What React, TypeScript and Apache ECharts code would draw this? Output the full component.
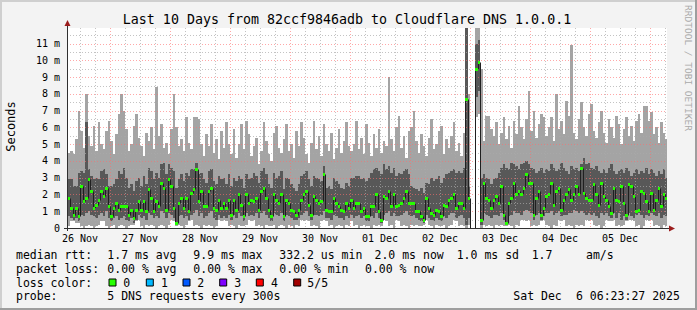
import React, { useEffect, useRef } from "react";
import * as echarts from "echarts";

// ---------- texts ----------
const TITLE = "Last 10 Days from 82ccf9846adb to Cloudflare DNS 1.0.0.1";
const Y_AXIS_NAME = "Seconds";
const WATERMARK = "RRDTOOL / TOBI OETIKER";
const DAY_LABELS = ["26 Nov", "27 Nov", "28 Nov", "29 Nov", "30 Nov", "01 Dec", "02 Dec", "03 Dec", "04 Dec", "05 Dec"];
// hours since 26 Nov 00:00
const DAY_NOON_HOURS = [12, 36, 60, 84, 108, 132, 156, 180, 204, 228];
const X_START_HOUR = 6.8;
const X_END_HOUR = 246.8;
const FIRST_STEP_HOUR = 7;
const Y_MAX_MS = 11.94;

// ---------- data (ms), one value per hourly step ----------
const MEDIAN_MS: (number | null)[] = [
  1.8, 1.2, 0.8, 1.2, 0.7, 2.5, 1.6, 1.8, 2.9, 2.2,
  1.2, 1.4, 1.7, 2.2, 1.9, 2.4, 1.3, 0.7, 1.2, 1.5,
  1.1, 1.3, 1.3, 1.3, 0.8, 1.1, 0.6, 1.1, 1.6, 1.1,
  1.6, 1.0, 2.3, 1.8, 1.0, 1.6, 1.3, 2.7, 2.4, 1.1,
  2.9, 2.5, 1.2, 0.3, 1.5, 1.8, 1.2, 1.8, 1.0, 2.1,
  2.3, 3.5, 1.6, 2.2, 1.3, 1.3, 2.2, 2.4, 1.2, 1.1,
  1.7, 1.2, 1.5, 1.2, 1.7, 0.8, 1.7, 1.1, 2.0, 1.4,
  0.7, 2.0, 1.5, 1.7, 1.6, 1.8, 1.1, 2.2, 2.4, 1.8,
  1.1, 0.7, 2.0, 1.7, 1.5, 2.0, 0.7, 1.7, 1.5, 1.1,
  1.0, 0.8, 1.1, 1.7, 2.0, 2.2, 1.4, 0.8, 1.9, 1.7,
  1.5, 1.6, 3.2, 1.1, 1.0, 1.0, 1.8, 1.5, 1.3, 1.1,
  1.0, 1.5, 1.2, 1.7, 1.2, 1.5, 1.5, 1.0, 1.2, 0.7,
  0.7, 1.3, 1.3, 2.0, 1.0, 0.5, 1.9, 1.8, 2.2, 1.3,
  2.0, 1.3, 1.4, 1.5, 1.8, 2.2, 1.5, 1.5, 1.5, 1.0,
  1.0, 0.7, 0.5, 1.8, 1.2, 0.9, 0.8, 1.1, 1.0, 0.7,
  1.4, 1.3, 1.7, 1.8, 2.0, 1.2, 1.5, 1.5, 1.2, 7.7,
  1.8, null, null, 9.5, 9.9, 0.5, 2.7, 1.8, 1.7, 1.2,
  1.7, 1.9, 1.5, 2.5, 0.8, 0.3, 1.5, 1.8, 2.7, 2.0,
  2.2, 2.0, 2.4, 3.2, 2.7, 2.7, 0.8, 1.8, 2.2, 0.8,
  1.2, 1.9, 2.0, 2.7, 1.4, 2.2, 2.4, 1.1, 1.7, 2.0,
  2.3, 1.7, 2.0, 2.5, 2.0, 3.6, 2.1, 1.8, 1.7, 1.7,
  2.6, 2.0, 1.4, 2.7, 1.9, 1.7, 1.3, 0.9, 2.4, 1.7,
  1.6, 2.5, 1.5, 0.8, 2.6, 2.5, 1.9, 1.0, 1.1, 2.2,
  2.1, 1.6, 1.0, 2.1, 1.1, 1.7, 2.4, 1.3, 2.0, 1.8,
];

// highest of the 5 pings
const P5_MS = [
  4.5, 4.6, 4.4, 5.3, 7.0, 5.8, 4.8, 8.0, 5.5, 4.9, 6.1, 4.6, 6.3, 5.0, 4.7, 5.8, 6.4,
  5.2, 4.4, 5.6, 6.8, 8.0, 7.0, 5.9, 4.6, 5.0, 6.1, 6.8, 5.4, 4.9, 4.3, 5.7, 5.2, 6.0, 4.7, 8.4, 5.5, 6.2, 4.8, 5.1, 4.4,
  5.9, 8.0, 6.0, 4.9, 5.3, 4.6, 6.6, 5.1, 4.7, 6.6, 6.6, 6.5, 5.0, 4.3, 5.6, 4.9, 6.2, 4.5, 5.3, 4.1, 5.8, 4.8, 6.3, 5.0,
  4.4, 5.9, 4.2, 5.0, 6.2, 4.7, 6.4, 5.6, 4.3, 4.9, 5.4, 3.8, 4.6, 6.3, 5.2, 4.4, 4.0, 5.7, 6.1, 4.8, 4.5, 5.3, 6.2, 4.6,
  5.0, 4.2, 5.8, 4.9, 6.3, 5.4, 4.4, 3.9, 5.1, 6.4, 4.7, 5.5, 4.3, 6.2, 5.0, 4.6, 5.7, 4.1, 4.8, 5.9, 4.5, 5.2, 6.3, 4.9,
  4.6, 5.0, 6.4, 4.7, 5.4, 4.4, 6.2, 5.1, 4.3, 5.6, 4.8, 5.9, 4.5, 5.2, 4.9, 9.0, 5.3, 4.6, 6.0, 6.7, 4.8, 5.5, 4.2, 5.8,
  6.0, 7.0, 5.2, 4.5, 5.6, 4.9, 4.3, 5.4, 6.5, 4.7, 5.0, 5.8, 6.1, 4.4, 5.3, 4.8, 5.5, 6.3, 4.6, 5.1, 4.3, 5.7,
  13, 8.0, 0, 0, 13, 13, 9.5,
  5.2, 6.7, 6.7, 5.9, 5.5, 6.3, 5.0, 5.7, 6.6, 5.3, 6.1, 4.8, 6.4, 5.6, 7.3, 6.0, 5.3, 6.5, 8.2, 5.8, 7.0, 5.4, 6.2, 6.8,
  6.6, 5.5, 6.0, 6.6, 5.2, 8.0, 5.9, 6.4, 5.6, 7.6, 6.7, 10.9, 5.7, 5.3, 6.5, 7.5, 6.0, 5.5, 6.8, 7.4, 5.8, 5.4, 6.3, 7.0,
  5.7, 5.1, 6.5, 6.0, 5.4, 6.7, 6.2, 5.0, 5.9, 6.6, 5.5, 6.1, 5.2, 6.4, 6.8, 5.7, 7.3, 7.3, 6.4, 6.9, 5.6, 6.0, 5.1, 6.3, 5.7, 5.3,
];

// 4th ping
const P4_MS = [
  2.9, 2.9, 2.5, 2.5, 3.3, 3.4, 3.3, 6.3, 3.5, 3.1, 2.9, 3.0, 2.9, 3.4, 3.5, 3.2, 2.5,
  2.5, 2.6, 2.9, 3.4, 3.2, 3.6, 3.0, 2.4, 2.6, 2.2, 2.8, 3.0, 2.5, 3.1, 2.6, 3.6, 3.4, 2.9, 3.3, 3.0, 3.8, 3.9, 3.2, 3.8,
  3.6, 3.4, 2.4, 2.9, 3.2, 2.8, 3.3, 3.1, 3.5, 3.5, 3.9, 3.2, 3.3, 2.9, 2.7, 3.4, 3.5, 2.8, 2.6, 3.1, 2.9, 3.0, 2.6, 3.2,
  2.5, 3.0, 2.8, 3.1, 2.9, 2.4, 3.2, 2.9, 3.0, 3.3, 3.1, 2.7, 3.4, 3.6, 3.2, 2.6, 2.4, 3.3, 3.0, 3.1, 3.4, 2.3, 3.0, 2.9,
  2.6, 2.4, 2.2, 2.6, 3.1, 3.2, 3.4, 2.9, 2.5, 3.1, 3.0, 2.9, 2.8, 3.7, 2.4, 2.5, 2.3, 3.0, 2.8, 2.6, 2.4, 2.3, 2.7, 2.5, 3.0,
  3.0, 3.1, 3.1, 2.9, 3.0, 2.8, 3.0, 3.3, 3.5, 3.6, 3.4, 3.2, 3.8, 3.5, 3.7, 3.3, 3.6, 3.1, 3.3, 3.2, 3.4, 3.5, 3.2, 2.5, 2.4,
  2.3, 2.2, 2.4, 2.1, 2.7, 2.6, 3.0, 2.8, 2.9, 3.1, 2.7, 3.0, 3.2, 3.3, 3.4, 3.5, 3.3, 3.4, 3.3, 3.6,
  13, 2.5, 0, 0, 11.0, 11.2, 3.0,
  3.2, 3.0, 2.9, 2.6, 2.9, 3.0, 3.3, 3.6, 3.8, 3.6, 3.5, 3.9, 3.8, 3.7, 3.5, 3.8, 3.9, 4.0, 3.8, 3.6, 3.5, 3.3, 3.4, 3.6,
  3.3, 3.5, 3.4, 3.8, 3.6, 3.4, 3.5, 3.9, 3.6, 3.4, 3.2, 3.7, 3.5, 3.6, 3.4, 3.8, 4.2, 3.8, 3.9, 3.6, 3.5, 3.7, 3.4, 3.3,
  3.5, 3.3, 3.6, 3.8, 3.4, 3.2, 3.4, 3.5, 3.3, 3.6, 3.4, 3.1, 3.3, 3.5, 3.2, 3.4, 3.3, 3.6, 3.2, 3.5, 3.3, 3.1, 3.4, 3.2, 3.5, 3.0,
];

// 2nd ping
const P2_MS = [
  0.7, 0.6, 0.5, 0.6, 0.4, 0.8, 0.7, 0.9, 1.0, 0.8, 0.7, 0.6, 0.8, 0.9, 0.7, 1.0, 0.6,
  0.4, 0.6, 0.7, 0.5, 0.6, 0.7, 0.5, 0.4, 0.6, 0.3, 0.5, 0.8, 0.6, 0.7, 0.5, 0.9, 0.8, 0.6, 0.7, 0.6, 1.0, 0.9, 0.6, 0.9,
  0.8, 0.6, 0.2, 0.7, 0.8, 0.6, 0.7, 0.5, 0.8, 0.9, 1.1, 0.7, 0.9, 0.6, 0.7, 0.9, 1.0, 0.6, 0.5, 0.8, 0.6, 0.7, 0.6, 0.8,
  0.5, 0.8, 0.6, 0.9, 0.7, 0.4, 0.9, 0.7, 0.8, 0.7, 0.9, 0.6, 0.9, 1.0, 0.8, 0.6, 0.4, 0.9, 0.8, 0.7, 0.9, 0.4, 0.8, 0.7,
  0.6, 0.5, 0.5, 0.6, 0.8, 0.9, 1.0, 0.7, 0.5, 0.8, 0.8, 0.7, 0.8, 1.0, 0.6, 0.6, 0.5, 0.8, 0.7, 0.6, 0.6, 0.5, 0.7, 0.6, 0.8,
  0.6, 0.7, 0.8, 0.6, 0.7, 0.4, 0.4, 0.7, 0.6, 0.9, 0.6, 0.3, 0.8, 0.9, 1.0, 0.7, 0.9, 0.7, 0.7, 0.8, 0.9, 1.0, 0.8, 0.7, 0.8,
  0.6, 0.5, 0.4, 0.3, 0.8, 0.6, 0.5, 0.4, 0.6, 0.5, 0.4, 0.7, 0.6, 0.8, 0.9, 0.9, 0.6, 0.7, 0.8, 0.6,
  0.2, 0.6, 0, 0, 7.8, 8.2, 0.2,
  0.9, 0.8, 0.7, 0.6, 0.8, 0.8, 0.7, 0.9, 0.5, 0.2, 0.7, 0.8, 1.0, 0.9, 0.9, 0.8, 1.0, 1.1, 1.0, 0.9, 0.5, 0.8, 0.9, 0.5,
  0.7, 0.9, 0.9, 1.0, 0.8, 0.9, 1.0, 0.7, 0.8, 0.8, 0.9, 0.9, 1.1, 1.0, 0.9, 1.0, 0.9, 0.8, 0.9, 0.8, 0.9, 0.7, 0.6, 0.9,
  0.8, 0.9, 0.7, 0.6, 0.9, 0.6, 0.9, 0.5, 0.7, 0.5, 0.9, 0.7, 0.6, 0.8, 0.9, 0.8, 0.6, 0.8, 0.7, 0.9, 0.8, 0.7, 0.9, 0.6, 0.8, 0.7,
];

// lowest ping
const P1_MS = [
  0.1, 0.4, 0.4, 0.3, 0.3, 0.1, 0.0, 0.1, 0.2, 0.1, 0.0, 0.1, 0.2, 0.4, 0.4, 0.1, 0.0,
  0.1, 0.2, 0.0, 0.1, 0.2, 0.1, 0.0, 0.1, 0.2, 0.2, 0.4, 0.5, 0.1, 0.0, 0.2, 0.1, 0.2, 0.1, 0.0, 0.1, 0.2, 0.1, 0.0, 0.2,
  0.5, 0.4, 0.1, 0.2, 0.1, 0.0, 0.2, 0.4, 0.5, 0.1, 0.2, 0.1, 0.0, 0.2, 0.1, 0.2, 0.1, 0.0, 0.1, 0.5, 0.4, 0.5, 0.4, 0.1,
  0.2, 0.1, 0.0, 0.2, 0.1, 0.1, 0.2, 0.5, 0.4, 0.5, 0.1, 0.2, 0.1, 0.0, 0.2, 0.1, 0.1, 0.2, 0.0, 0.1, 0.2, 0.1, 0.0, 0.2,
  0.1, 0.0, 0.2, 0.1, 0.5, 0.4, 0.5, 0.4, 0.1, 0.2, 0.1, 0.0, 0.4, 0.5, 0.4, 0.1, 0.2, 0.0, 0.1, 0.2, 0.1, 0.0, 0.2, 0.1, 0.4,
  0.1, 0.2, 0.0, 0.1, 0.2, 0.1, 0.1, 0.0, 0.2, 0.1, 0.2, 0.1, 0.5, 0.4, 0.1, 0.2, 0.0, 0.5, 0.4, 0.1, 0.2, 0.1, 0.0, 0.2, 0.1,
  0.2, 0.1, 0.1, 0.2, 0.5, 0.2, 0.1, 0.0, 0.2, 0.1, 0.1, 0.2, 0.0, 0.1, 0.2, 0.5, 0.4, 0.1, 0.2, 0.1,
  0.0, 0.2, 0, 0, 6.6, 6.8, 0.0,
  0.2, 0.1, 0.2, 0.1, 0.0, 0.2, 0.1, 0.2, 0.1, 0.1, 0.2, 0.1, 0.0, 0.2, 0.1, 0.5, 0.5, 0.4, 0.5, 0.1, 0.2, 0.1, 0.2, 0.4,
  0.5, 0.2, 0.1, 0.0, 0.2, 0.1, 0.5, 0.4, 0.5, 0.1, 0.2, 0.1, 0.0, 0.2, 0.1, 0.2, 0.1, 0.5, 0.4, 0.5, 0.2, 0.1, 0.2, 0.0,
  0.1, 0.5, 0.4, 0.4, 0.5, 0.1, 0.2, 0.1, 0.2, 0.4, 0.5, 0.5, 0.4, 0.1, 0.2, 0.0, 0.1, 0.5, 0.4, 0.5, 0.1, 0.2, 0.1, 0.0, 0.2, 0.1,
];

// ---------- legend texts ----------
const MEDIAN_LABEL = "median rtt:";
const MEDIAN_STATS = ["1.7 ms avg", "9.9 ms max", "332.2 us min", "2.0 ms now", "1.0 ms sd", "1.7", "am/s"];
const LOSS_LABEL = "packet loss:";
const LOSS_STATS = ["0.00 % avg", "0.00 % max", "0.00 % min", "0.00 % now"];
const LOSS_COLOR_LABEL = "loss color:";
const LOSS_CLASSES = ["0", "1", "2", "3", "4", "5/5"];
const LOSS_COLORS = ["#26ff00", "#00b8ff", "#0059ff", "#7e00ff", "#ff0000", "#a10000"];
const PROBE_LABEL = "probe:";
const PROBE_TEXT = "5 DNS requests every 300s";
const DATE_PARTS = ["Sat Dec", "6 06:23:27 2025"];

// ---------- styles ----------
const MONO = "DejaVu Sans Mono";
const LIGHT_SMOKE = "#a4a4a4";
const DARK_SMOKE = "#585858";
const MEDIAN_LINE = "#202020";
const MINOR_GRID = "rgba(170,170,170,0.7)";
const MAJOR_GRID = "rgba(255,110,110,0.6)";
const ARROW = "#9b1c1c";

export default function App() {
  const ref = useRef<HTMLDivElement>(null);

  useEffect(() => {
    if (!ref.current) return;
    const chart = echarts.init(ref.current, null, { renderer: "svg" });

    const smokeData = MEDIAN_MS.map((_, k) => [FIRST_STEP_HOUR + k, P1_MS[k], P2_MS[k], P4_MS[k], P5_MS[k]]);
    const medianData = MEDIAN_MS.map((m, k) => [
      FIRST_STEP_HOUR + k,
      m == null ? -1 : m,
      k > 0 && MEDIAN_MS[k - 1] != null ? (MEDIAN_MS[k - 1] as number) : -1,
    ]);

    const stepX = (api: any, h: number) => {
      const a = Math.max(h, X_START_HOUR);
      const b = Math.min(h + 1, X_END_HOUR);
      return [Math.round(api.coord([a, 0])[0]), Math.round(api.coord([b, 0])[0])];
    };
    const yOf = (api: any, h: number, v: number) => Math.round(api.coord([h, Math.min(v, Y_MAX_MS)])[1]);

    const renderSmoke = (_p: any, api: any) => {
      const h = api.value(0);
      const p1 = api.value(1), p2 = api.value(2), p4 = api.value(3), p5 = api.value(4);
      const [x0, x1] = stepX(api, h);
      const children: any[] = [];
      if (p5 > p1) {
        const t = yOf(api, h, p5), b = yOf(api, h, p1);
        children.push({ type: "rect", shape: { x: x0, y: t, width: x1 - x0, height: b - t }, style: { fill: LIGHT_SMOKE } });
      }
      if (p4 > p2) {
        const t = yOf(api, h, p4), b = yOf(api, h, p2);
        children.push({ type: "rect", shape: { x: x0, y: t, width: x1 - x0, height: b - t }, style: { fill: DARK_SMOKE } });
      }
      return { type: "group", children };
    };

    const renderGrid = (_p: any, api: any) => {
      const top = api.coord([X_START_HOUR, Y_MAX_MS])[1];
      const bottom = api.coord([X_START_HOUR, 0])[1];
      const left = api.coord([X_START_HOUR, 0])[0];
      const right = api.coord([X_END_HOUR, 0])[0];
      const children: any[] = [];
      for (let h = 12; h < X_END_HOUR; h += 6) {
        const x = Math.round(api.coord([h, 0])[0]) + 0.5;
        children.push({
          type: "line",
          shape: { x1: x, y1: top, x2: x, y2: bottom },
          style: { stroke: h % 24 === 0 ? MAJOR_GRID : MINOR_GRID, lineWidth: 1, lineDash: [1, 2] },
        });
      }
      for (let i = 1; i * 0.5 < Y_MAX_MS; i++) {
        const v = i * 0.5;
        const y = Math.round(api.coord([X_START_HOUR, v])[1]) + 0.5;
        children.push({
          type: "line",
          shape: { x1: left, y1: y, x2: right, y2: y },
          style: { stroke: i % 2 === 0 ? MAJOR_GRID : MINOR_GRID, lineWidth: 1, lineDash: [1, 2] },
        });
      }
      return { type: "group", children };
    };

    const renderMedianLine = (p: any, api: any) => {
      const h = api.value(0), m = api.value(1), pm = api.value(2);
      const [x0, x1] = stepX(api, h);
      const yb = Math.round(api.coord([h, 0])[1]);
      const ym = m >= 0 ? yOf(api, h, m) : yb;
      const yp = pm >= 0 ? yOf(api, h, pm) : yb;
      const children: any[] = [];
      if (p.dataIndex > 0 && ym !== yp) {
        children.push({
          type: "line",
          shape: { x1: x0 + 0.5, y1: yp + 0.5, x2: x0 + 0.5, y2: ym + 0.5 },
          style: { stroke: MEDIAN_LINE, lineWidth: 1 },
        });
      }
      if (m >= 0) {
        children.push({
          type: "line",
          shape: { x1: x0, y1: ym + 0.5, x2: x1, y2: ym + 0.5 },
          style: { stroke: MEDIAN_LINE, lineWidth: 1 },
        });
      }
      return { type: "group", children };
    };

    const renderMedianMark = (_p: any, api: any) => {
      const h = api.value(0), m = api.value(1);
      if (m < 0) return { type: "group", children: [] };
      const [x0, x1] = stepX(api, h);
      const ym = yOf(api, h, m);
      return {
        type: "rect",
        shape: { x: x0, y: ym - 1, width: x1 - x0, height: 3 },
        style: { fill: LOSS_COLORS[0] },
      };
    };

    const txt = (text: string, x: number, y: number, size: number, extra: any = {}) => ({
      type: "text",
      x,
      y,
      z: 100,
      silent: true,
      rotation: extra.rotation || 0,
      style: {
        text,
        fontSize: size,
        fontFamily: MONO,
        fill: extra.fill || "#000",
        textAlign: extra.align || "left",
        verticalAlign: "middle",
      },
    });

    const medianX = [107.3, 193.3, 279.3, 374.5, 456.7, 531.7, 586];
    const lossX = [107.3, 193.3, 279.3, 365];
    const boxX = [109, 146.3, 183, 219.7, 256.3, 293.7];
    const classX = [123.3, 161, 197.3, 234.3, 271, 307.3];
    const rowY = [254.5, 268.5, 282.7, 296.3];
    const LEG = 11.5;

    const elements: any[] = [
      // frame
      { type: "rect", z: 100, shape: { x: 0, y: 0, width: 697, height: 2 }, style: { fill: "#cfcfcf" } },
      { type: "rect", z: 100, shape: { x: 0, y: 0, width: 2, height: 310 }, style: { fill: "#cfcfcf" } },
      { type: "rect", z: 100, shape: { x: 0, y: 308, width: 697, height: 2 }, style: { fill: "#9e9e9e" } },
      { type: "rect", z: 100, shape: { x: 695, y: 0, width: 2, height: 310 }, style: { fill: "#9e9e9e" } },
      // axes
      { type: "line", z: 100, shape: { x1: 67.5, y1: 231, x2: 67.5, y2: 24 }, style: { stroke: "#303030", lineWidth: 1 } },
      { type: "line", z: 100, shape: { x1: 64, y1: 228.5, x2: 670, y2: 228.5 }, style: { stroke: "#303030", lineWidth: 1 } },
      { type: "polygon", z: 101, shape: { points: [[64.5, 26], [70.5, 26], [67.5, 20]] }, style: { fill: ARROW } },
      { type: "polygon", z: 101, shape: { points: [[669, 225.5], [669, 231.5], [675, 228.5]] }, style: { fill: ARROW } },
      // title & names
      txt(TITLE, 347, 19.5, 13.3, { align: "center" }),
      txt(Y_AXIS_NAME, 10.5, 126.5, 12, { align: "center", rotation: Math.PI / 2 }),
      txt(WATERMARK, 688.5, 68, 9.5, { align: "center", rotation: -Math.PI / 2, fill: "#a9a9a9" }),
      // legend rows
      txt(MEDIAN_LABEL, 16, rowY[0], LEG),
      ...MEDIAN_STATS.map((s, i) => txt(s, medianX[i], rowY[0], LEG)),
      txt(LOSS_LABEL, 16, rowY[1], LEG),
      ...LOSS_STATS.map((s, i) => txt(s, lossX[i], rowY[1], LEG)),
      txt(LOSS_COLOR_LABEL, 16, rowY[2], LEG),
      ...LOSS_CLASSES.map((s, i) => txt(s, classX[i], rowY[2], LEG)),
      ...LOSS_COLORS.map((c, i) => ({
        type: "rect",
        z: 100,
        shape: { x: boxX[i], y: 279, width: 7, height: 7 },
        style: { fill: c, stroke: "#000", lineWidth: 1 },
      })),
      txt(PROBE_LABEL, 16, rowY[3], LEG),
      txt(PROBE_TEXT, 107.3, rowY[3], LEG),
      txt(DATE_PARTS[0], 513.3, rowY[3], LEG),
      txt(DATE_PARTS[1], 576, rowY[3], LEG),
    ];

    chart.setOption({
      animation: false,
      backgroundColor: "#f3f3f3",
      grid: { left: 67, top: 28, width: 600, height: 200, show: true, backgroundColor: "#ffffff", borderWidth: 0 },
      xAxis: {
        type: "value",
        min: X_START_HOUR,
        max: X_END_HOUR,
        axisLine: { show: false },
        axisTick: { show: false },
        splitLine: { show: false },
        axisLabel: {
          customValues: DAY_NOON_HOURS,
          formatter: (v: number) => {
            const i = DAY_NOON_HOURS.indexOf(Math.round(v));
            return i >= 0 ? DAY_LABELS[i] : "";
          },
          fontFamily: MONO,
          fontSize: 10,
          color: "#000",
          margin: 5,
        },
      },
      yAxis: {
        type: "value",
        min: 0,
        max: Y_MAX_MS,
        interval: 1,
        axisLine: { show: false },
        axisTick: { show: false },
        splitLine: { show: false },
        axisLabel: {
          formatter: (v: number) => {
            if (Math.abs(v - Math.round(v)) > 1e-6) return "";
            const r = Math.round(v);
            return r === 0 ? "0" : `${r} m`;
          },
          fontFamily: MONO,
          fontSize: 10,
          color: "#000",
          margin: 7,
          showMaxLabel: false,
        },
      },
      graphic: { elements },
      series: [
        { type: "custom", name: "smoke", renderItem: renderSmoke, data: smokeData, silent: true, z: 2 },
        { type: "custom", name: "grid", renderItem: renderGrid, data: [[X_START_HOUR, 0]], silent: true, z: 3 },
        { type: "custom", name: "median", renderItem: renderMedianLine, data: medianData, silent: true, z: 4 },
        { type: "custom", name: "loss 0", renderItem: renderMedianMark, data: medianData, silent: true, z: 5 },
      ],
    });

    return () => chart.dispose();
  }, []);

  return <div ref={ref} style={{ position: "absolute", left: 0, top: 0, width: 697, height: 310 }} />;
}
